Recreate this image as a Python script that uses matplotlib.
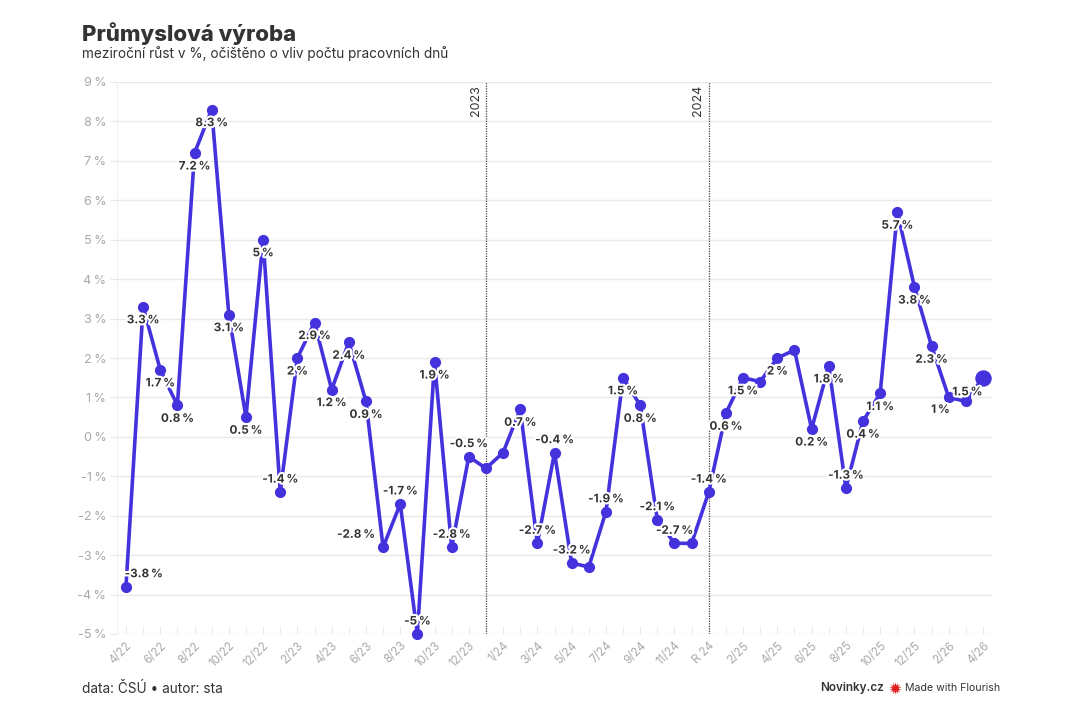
import numpy as np
import matplotlib.pyplot as plt
import matplotlib.patheffects as pe

# data (meziroční růst průmyslové výroby, %)
values = [-3.8, 3.3, 1.7, 0.8, 7.2, 8.3, 3.1, 0.5, 5.0, -1.4,
          2.0, 2.9, 1.2, 2.4, 0.9, -2.8, -1.7, -5.0, 1.9, -2.8,
          -0.5, -0.8, -0.4, 0.7, -2.7, -0.4, -3.2, -3.3, -1.9, 1.5,
          0.8, -2.1, -2.7, -2.7, -1.4, 0.6, 1.5, 1.4, 2.0, 2.2,
          0.2, 1.8, -1.3, 0.4, 1.1, 5.7, 3.8, 2.3, 1.0, 0.9,
          1.5]
# points without a value label
unlabeled = [21, 22, 27, 33, 37, 39, 49]
tick_labels = ['4/22', '6/22', '8/22', '10/22', '12/22', '2/23', '4/23', '6/23',
               '8/23', '10/23', '12/23', '1/24', '3/24', '5/24', '7/24', '9/24',
               '11/24', 'R 24', '2/25', '4/25', '6/25', '8/25', '10/25', '12/25',
               '2/26', '4/26']
year_lines = [21, 34]
year_labels = ['2023', '2024']

line_color = '#4433dd'
text_dark = '#333333'
grey = '#aaaaaa'
grid_color = '#e9e9e9'

plt.rcParams['font.family'] = ['Inter', 'DejaVu Sans']

fig = plt.figure(figsize=(10.8, 7.2), dpi=100)
ax = fig.add_axes([117.4 / 1080, 1 - 634 / 720, (991.6 - 117.4) / 1080, (634 - 82) / 720])

x = np.arange(len(values))
ax.plot(x, values, color=line_color, lw=2.6, zorder=3, clip_on=False)
ax.scatter(x[:-1], values[:-1], s=65, color=line_color, zorder=4, linewidths=0, clip_on=False)
ax.scatter(x[-1:], values[-1:], s=140, color=line_color, zorder=4, linewidths=0, clip_on=False)

# value labels: below for positive, above for negative, with a few nudges
nudge = {0: (17, 12), 15: (-26, 12), 48: (-8, -12), 50: (-15, -14)}
halo = [pe.withStroke(linewidth=3, foreground='white')]
for i, v in enumerate(values):
    if i in unlabeled:
        continue
    lab = ('%g' % v) + '\u2009%'
    if i in nudge:
        dx, dy = nudge[i]
    else:
        dx, dy = 0, (12 if v < 0 else -13)
    ax.annotate(lab, (i, v), xytext=(dx * 0.75, dy * 0.75), textcoords='offset points',
                ha='center', va='center', fontsize=8.4, fontweight='bold',
                color=text_dark, path_effects=halo, zorder=5, annotation_clip=False)

# year separators
for xl, yl in zip(year_lines, year_labels):
    ax.axvline(xl, color='#444444', lw=0.9, ls=(0, (1, 1)), zorder=2)
    ax.text(xl - 0.25, 8.92, yl, rotation=90, ha='right', va='top',
            fontsize=9, color=text_dark)

ax.set_xlim(-0.5, len(values) - 0.5)
ax.set_ylim(-5, 9)
ax.set_yticks(range(-5, 10))
ax.set_yticklabels(['%d\u2009%%' % t for t in range(-5, 10)])
ax.set_xticks(range(0, len(values), 2))
ax.set_xticklabels(tick_labels, rotation=45, ha='right', rotation_mode='anchor')
ax.set_xticks(range(len(values)), minor=True)
ax.grid(axis='y', color=grid_color, lw=1, zorder=0)

for s in ['top', 'right', 'bottom']:
    ax.spines[s].set_visible(False)
ax.spines['left'].set_color('#f0f0f0')
ax.tick_params(axis='y', length=5, color=grid_color, labelcolor=grey,
               labelsize=9.2, pad=3)
ax.tick_params(axis='x', which='both', direction='in', length=6, color=grid_color,
               labelcolor=grey, labelsize=8.3, pad=4)

# titles and footer
fig.text(82 / 1080, 1 - 34 / 720, 'Průmyslová výroba', fontsize=16, fontweight='heavy',
         color=text_dark, va='center')
fig.text(82 / 1080, 1 - 54 / 720, 'meziroční růst v %, očištěno o vliv počtu pracovních dnů',
         fontsize=9.8, color=text_dark, va='center')
fig.text(82 / 1080, 1 - 689 / 720, 'data: ČSÚ • autor: sta', fontsize=9.8,
         color=text_dark, va='center')
fig.text(884 / 1080, 1 - 688 / 720, 'Novinky.cz', fontsize=8.4, fontweight='semibold',
         color=text_dark, va='center', ha='right')
fig.text(1000 / 1080, 1 - 688 / 720, 'Made with Flourish', fontsize=7.6,
         color=text_dark, va='center', ha='right')
ax.scatter([895 / 1080], [1 - 688 / 720], s=80, marker=(14, 1, 0), color='#e02020',
           transform=fig.transFigure, clip_on=False, linewidths=0)

fig.savefig('out.png', dpi=100, facecolor='white')
